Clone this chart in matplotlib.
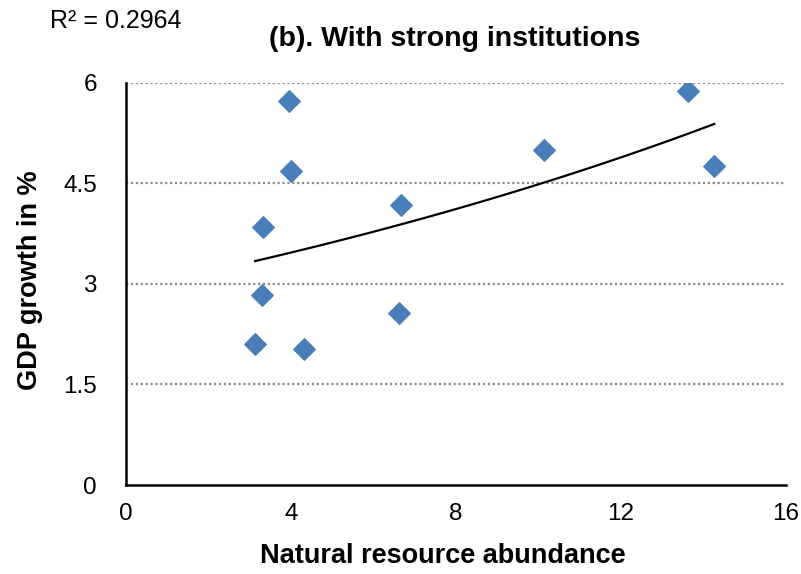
## LIBRARY------------------------------------------------------------------------
import numpy as np
import matplotlib.pyplot as plt
## -------------------------------------------------------------------------------

## DATA---------------------------------------------------------------------------
resource_abundance = [3.13, 3.29, 3.33, 3.94, 4.01, 4.32, 6.63, 6.67, 10.14, 13.62, 14.26]
gdp_growth = [2.11, 2.84, 3.85, 5.73, 4.68, 2.03, 2.57, 4.17, 4.99, 5.87, 4.76]
# exponential trendline y = a * exp(b * x)
trend_a = 2.92
trend_b = 0.0429
r2_label = 'R² = 0.2964'
title = '(b). With strong institutions'
x_label = 'Natural resource abundance'
y_label = 'GDP growth in %'
x_ticks = [0, 4, 8, 12, 16]
y_ticks = [0, 1.5, 3, 4.5, 6]
y_tick_labels = ['0', '1.5', '3', '4.5', '6']
## -------------------------------------------------------------------------------

plt.rcParams['font.family'] = ['Liberation Sans', 'DejaVu Sans']
font_size = 17.5

fig = plt.figure(figsize=(8.01, 5.74), dpi=100)
ax = fig.add_axes([0.1573, 0.155, 0.824, 0.701])

x = np.array(resource_abundance)
y = np.array(gdp_growth)

# Trendline over the data range
x_fit = np.linspace(x.min(), x.max(), 100)
ax.plot(x_fit, trend_a * np.exp(trend_b * x_fit), color='k', lw=1.6, zorder=2)

ax.scatter(x, y, marker='D', s=120, color='#4a7ebb', edgecolors='#4a7ebb', zorder=3)

ax.set_xlim(0, 16)
ax.set_ylim(0, 6)
ax.set_xticks(x_ticks)
ax.set_xticklabels([str(t) for t in x_ticks])
ax.set_yticks(y_ticks)
ax.set_yticklabels(y_tick_labels)
ax.tick_params(length=0, labelsize=font_size)
ax.tick_params(axis='x', pad=13)
ax.tick_params(axis='y', pad=21)

for yv in y_ticks[1:]:
    ax.axhline(yv, color='#8c8c8c', lw=1.6, linestyle=(0, (1, 1.2)), zorder=1)

for side in ['top', 'right']:
    ax.spines[side].set_visible(False)
for side in ['left', 'bottom']:
    ax.spines[side].set_linewidth(1.8)

ax.set_xlabel(x_label, fontsize=19.5, fontweight='bold')
ax.set_ylabel(y_label, fontsize=19.5, fontweight='bold')
ax.xaxis.set_label_coords(0.48, -0.143)
ax.yaxis.set_label_coords(-0.125, 0.51)

fig.text(0.568, 0.932, title, fontsize=20.5, fontweight='bold', ha='center', va='center')
fig.text(0.062, 0.963, r2_label, fontsize=18, ha='left', va='center')

fig.savefig('out.png', dpi=100)
